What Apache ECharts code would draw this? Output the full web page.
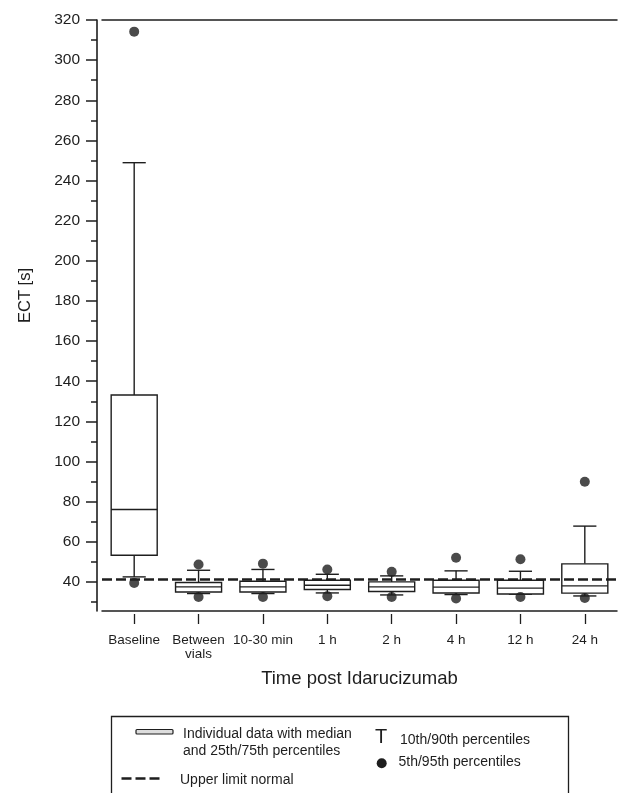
<!DOCTYPE html>
<html>
<head>
<meta charset="utf-8">
<script src="https://cdn.jsdelivr.net/npm/echarts@6/dist/echarts.min.js"></script>
<style>
  html, body { margin: 0; padding: 0; background: #fff; }
  #chart { width: 620px; height: 793px; }
</style>
</head>
<body>
<div id="chart"></div>
<script>
// categories along the x axis
const categories = ["Baseline", "Between\nvials", "10-30 min", "1 h", "2 h", "4 h", "12 h", "24 h"];
// percentiles (ECT, seconds)
const p5 = [39.5, 32.5, 32.5, 32.9, 32.5, 31.7, 32.5, 32.0];
const p10 = [42.5, 34.2, 34.2, 34.5, 33.5, 33.7, 33.9, 33.0];
const p25 = [53.3, 35.0, 35.0, 36.2, 35.2, 34.5, 34.0, 34.4];
const p50 = [76.1, 37.5, 37.5, 38.3, 37.5, 37.4, 36.9, 38.0];
const p75 = [133.1, 39.7, 40.3, 40.8, 40.0, 40.8, 40.8, 49.0];
const p90 = [248.9, 45.8, 46.2, 43.8, 43.0, 45.5, 45.3, 67.8];
const p95 = [314.2, 48.7, 49.1, 46.2, 45.0, 52.0, 51.3, 89.9];
const upperLimitNormal = 41.3;
// y tick labels and minor ticks
const yTickLabels = [40, 60, 80, 100, 120, 140, 160, 180, 200, 220, 240, 260, 280, 300, 320];
const yMinorTicks = [30, 50, 70, 90, 110, 130, 150, 170, 190, 210, 230, 250, 270, 290, 310];

const FONT = "'Liberation Sans', Arial, Helvetica, sans-serif";
const INK = "#1e1e1e";

const boxData = categories.map((c, i) => [i, p10[i], p25[i], p50[i], p75[i], p90[i]]);
const dotData = [];
categories.forEach((c, i) => {
  dotData.push([i, p5[i]]);
  dotData.push([i, p95[i]]);
});

function renderBox(params, api) {
  const i = api.value(0);
  const x = api.coord([i, 0])[0];
  const y10 = api.coord([i, api.value(1)])[1];
  const y25 = api.coord([i, api.value(2)])[1];
  const y50 = api.coord([i, api.value(3)])[1];
  const y75 = api.coord([i, api.value(4)])[1];
  const y90 = api.coord([i, api.value(5)])[1];
  const band = api.size([1, 0])[0];
  const bw = band * 0.715;
  const cw = band * 0.36;
  const st = { stroke: INK, lineWidth: 1.4, fill: null };
  return {
    type: "group",
    children: [
      { type: "line", shape: { x1: x, y1: y90, x2: x, y2: y75 }, style: st },
      { type: "line", shape: { x1: x - cw / 2, y1: y90, x2: x + cw / 2, y2: y90 }, style: st },
      { type: "line", shape: { x1: x, y1: y25, x2: x, y2: y10 }, style: st },
      { type: "line", shape: { x1: x - cw / 2, y1: y10, x2: x + cw / 2, y2: y10 }, style: st },
      { type: "rect", shape: { x: x - bw / 2, y: y75, width: bw, height: y25 - y75 },
        style: { stroke: INK, lineWidth: 1.4, fill: "#fff" } },
      { type: "line", shape: { x1: x - bw / 2, y1: y50, x2: x + bw / 2, y2: y50 }, style: st }
    ]
  };
}

const chart = echarts.init(document.getElementById("chart"), null, { renderer: "canvas" });

const option = {
  backgroundColor: "#fff",
  animation: false,
  textStyle: { fontFamily: FONT, color: INK },
  grid: { left: 102, right: 3, top: 20, height: 591 },
  xAxis: [
    {
      type: "category",
      data: categories,
      position: "bottom",
      offset: 3,
      axisLine: { show: false },
      axisTick: { show: true, alignWithLabel: true, length: 10, lineStyle: { color: INK, width: 1.3 } },
      axisLabel: { interval: 0, margin: 19, fontSize: 13.5, lineHeight: 14, color: INK, fontFamily: FONT },
      splitLine: { show: false },
      name: "Time post Idarucizumab",
      nameLocation: "middle",
      nameGap: 55,
      nameTextStyle: { fontSize: 18.5, color: INK, fontFamily: FONT }
    },
    {
      type: "category",
      data: categories,
      position: "bottom",
      axisLine: { show: true, lineStyle: { color: INK, width: 1.5 } },
      axisTick: { show: false },
      axisLabel: { show: false }
    },
    {
      type: "category",
      data: categories,
      position: "top",
      axisLine: { show: true, lineStyle: { color: INK, width: 1.5 } },
      axisTick: { show: false },
      axisLabel: { show: false }
    }
  ],
  yAxis: [
    {
      type: "value",
      min: 25.5,
      max: 320,
      position: "left",
      offset: 5,
      axisLine: { show: true, lineStyle: { color: INK, width: 1.6 } },
      axisTick: { show: true, length: 11, customValues: yTickLabels, lineStyle: { color: INK, width: 1.5 } },
      axisLabel: { customValues: yTickLabels, margin: 17, fontSize: 15.5, color: INK, fontFamily: FONT },
      splitLine: { show: false },
      name: "ECT [s]",
      nameLocation: "middle",
      nameGap: 63,
      nameTextStyle: { fontSize: 16.5, color: INK, fontFamily: FONT, padding: [0, 0, 0, 40] }
    },
    {
      type: "value",
      min: 25.5,
      max: 320,
      position: "left",
      offset: 5,
      axisLine: { show: false },
      axisTick: { show: true, length: 6, customValues: yMinorTicks, lineStyle: { color: INK, width: 1.5 } },
      axisLabel: { show: false },
      splitLine: { show: false }
    }
  ],
  series: [
    {
      type: "custom",
      name: "box",
      renderItem: renderBox,
      data: boxData,
      encode: { x: 0, y: [1, 2, 3, 4, 5] },
      z: 2
    },
    {
      type: "line",
      name: "Upper limit normal",
      data: [],
      z: 4,
      markLine: {
        silent: true,
        symbol: "none",
        label: { show: false },
        lineStyle: { color: INK, width: 2.6, type: [10, 4] },
        data: [{ yAxis: upperLimitNormal }]
      }
    },
    {
      type: "scatter",
      name: "5th/95th percentiles",
      data: dotData,
      symbol: "circle",
      symbolSize: 10,
      itemStyle: { color: INK },
      z: 5
    }
  ],
  graphic: [
    { type: "rect", shape: { x: 111.5, y: 716.5, width: 457, height: 90 },
      style: { fill: null, stroke: INK, lineWidth: 1.3 } },
    { type: "rect", shape: { x: 136, y: 729.5, width: 37, height: 4.5, r: 1 },
      style: { fill: "#ddd", stroke: INK, lineWidth: 1.2 } },
    { type: "text", left: 183, top: 726,
      style: { text: "Individual data with median\nand 25th/75th percentiles", font: "14px " + FONT,
        lineHeight: 16.5, fill: INK } },
    { type: "text", left: 375, top: 727,
      style: { text: "T", font: "20px " + FONT, fill: INK } },
    { type: "text", left: 400, top: 733,
      style: { text: "10th/90th percentiles", font: "14px " + FONT, fill: INK } },
    { type: "circle", shape: { cx: 381.7, cy: 763.3, r: 5 }, style: { fill: INK } },
    { type: "text", left: 398.5, top: 755.5,
      style: { text: "5th/95th percentiles", font: "14px " + FONT, fill: INK } },
    { type: "line", shape: { x1: 121.5, y1: 778.5, x2: 163.5, y2: 778.5 },
      style: { stroke: INK, lineWidth: 2.5, lineDash: [10, 4] } },
    { type: "text", left: 180, top: 773,
      style: { text: "Upper limit normal", font: "14px " + FONT, fill: INK } }
  ]
};

chart.setOption(option);
</script>
</body>
</html>
